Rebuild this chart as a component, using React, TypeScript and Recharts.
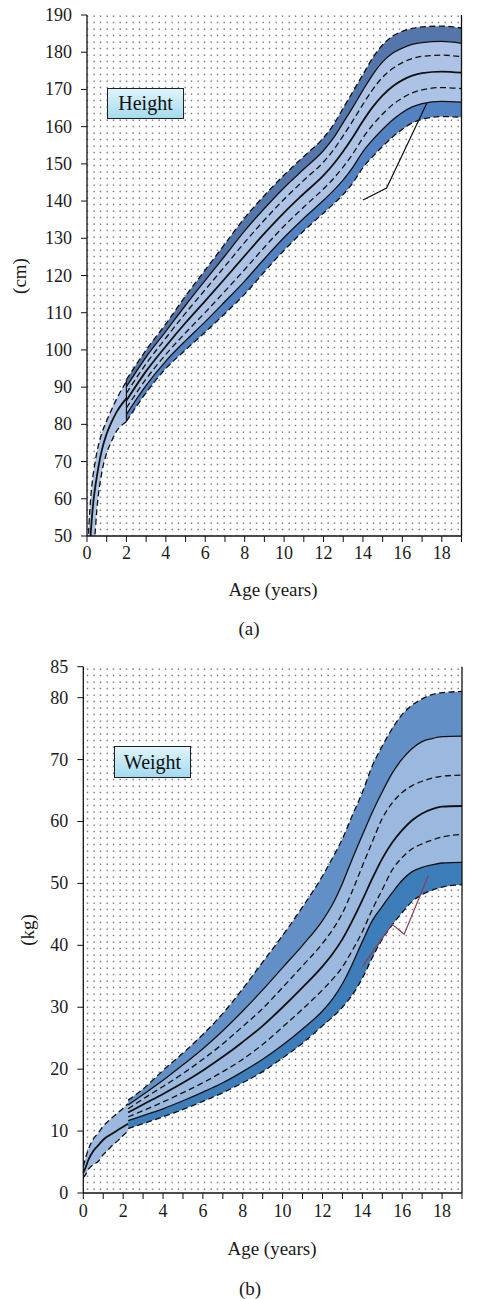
import React from 'react';
import { ComposedChart, Area, Line, XAxis, YAxis, CartesianGrid } from 'recharts';

const SERIF = '"Liberation Serif", "Times New Roman", serif';

// ---------- Height chart data ----------
const hInfAges = [0.05, 0.1, 0.2, 0.3, 0.4, 0.5, 0.75, 1, 1.25, 1.5, 1.75, 2];
const hInfP3 = [25, 30, 38, 44, 50, 57, 67, 72.3, 75.5, 78.2, 79.7, 80.7];
const hInfP50 = [36, 42, 51.5, 58, 62.5, 66, 73, 77.5, 80.7, 83.3, 85.3, 87];
const hInfP97 = [48, 53, 61, 66, 69.5, 72.5, 77.6, 81, 84, 86.8, 89.3, 91.5];

const hAges = [2, 3, 4, 5, 6, 7, 8, 9, 10, 11, 12, 12.5, 13, 13.5, 14, 14.5, 15, 15.5, 16, 16.5, 17, 18, 19];
const hP3 = [80.8, 88.5, 95.0, 100.0, 104.8, 109.8, 115.0, 121.0, 126.8, 132.0, 136.8, 139.2, 141.8, 145.0, 149.0, 152.0, 154.7, 157.2, 159.3, 161.0, 162.0, 162.7, 162.5];
const hP10 = [82.7, 90.5, 97.0, 102.5, 107.6, 113.0, 118.5, 124.5, 130.2, 135.4, 140.2, 142.8, 145.7, 149.2, 153.3, 156.5, 159.3, 161.8, 163.8, 165.3, 166.2, 166.8, 166.6];
const hP25 = [84.4, 92.2, 98.8, 104.6, 110.1, 115.8, 121.6, 127.6, 133.3, 138.4, 143.3, 146.0, 149.2, 152.8, 157.0, 160.5, 163.4, 165.9, 167.7, 169.1, 169.9, 170.5, 170.2];
const hP50 = [86.4, 94.3, 101.0, 107.3, 113.2, 119.2, 125.3, 131.3, 136.9, 142.0, 146.9, 149.9, 153.4, 157.3, 161.5, 165.3, 168.4, 170.8, 172.5, 173.7, 174.4, 174.8, 174.5];
const hP75 = [88.4, 96.3, 103.2, 109.9, 116.2, 122.5, 128.9, 134.9, 140.5, 145.6, 150.5, 153.7, 157.6, 161.7, 166.0, 170.0, 173.3, 175.6, 177.2, 178.3, 178.9, 179.2, 178.8];
const hP90 = [90.1, 98.1, 105.0, 112.0, 118.7, 125.3, 132.0, 138.0, 143.6, 148.6, 153.6, 156.9, 161.1, 165.3, 169.8, 174.0, 177.4, 179.7, 181.1, 182.1, 182.6, 182.9, 182.4];
const hP97 = [92.0, 100.0, 107.0, 114.5, 121.5, 128.5, 135.5, 141.5, 147.0, 152.0, 157.0, 160.5, 165.0, 169.5, 174.0, 178.5, 182.0, 184.3, 185.6, 186.4, 186.8, 187.0, 186.5];

const patientHAges = [14.0, 15.2, 17.24];
const patientHeights = [140.3, 143.5, 166.3];

const hYTicks = [50, 60, 70, 80, 90, 100, 110, 120, 130, 140, 150, 160, 170, 180, 190];
const hRightTicks = [187.0, 182.8, 178.6, 174.6, 170.3, 166.0, 161.4];

// ---------- Weight chart data ----------
const wInfAges = [0, 0.1, 0.25, 0.5, 0.75, 1, 1.25, 1.5, 1.75, 2, 2.25];
const wInfP3 = [2.5, 2.9, 3.8, 4.6, 5.1, 6.2, 7.0, 7.8, 8.5, 9.3, 10.0];
const wInfP50 = [3.3, 4.0, 5.3, 6.8, 7.7, 8.6, 9.2, 9.7, 10.2, 10.7, 11.2];
const wInfP97 = [4.3, 5.5, 7.0, 8.7, 9.7, 10.8, 11.6, 12.3, 13.0, 13.7, 14.4];

const wAges = [2.25, 3, 4, 5, 6, 7, 8, 9, 10, 11, 12, 12.5, 13, 13.5, 14, 14.5, 15, 15.5, 16, 16.5, 17, 17.5, 18, 19];
const wP3 = [10.4, 11.2, 12.3, 13.5, 14.8, 16.2, 17.8, 19.6, 21.8, 24.2, 27.0, 28.4, 30.0, 32.0, 34.7, 38.0, 41.0, 43.3, 45.3, 47.1, 48.2, 48.9, 49.4, 49.8];
const wP10 = [11.7, 12.5, 13.6, 14.9, 16.3, 17.8, 19.6, 21.6, 23.9, 26.5, 29.4, 31.3, 33.8, 37.0, 40.6, 44.0, 46.3, 48.5, 50.5, 51.9, 52.6, 53.0, 53.3, 53.4];
const wP25 = [12.3, 13.3, 14.7, 16.2, 17.8, 19.6, 21.6, 24.0, 26.8, 29.7, 32.8, 34.5, 36.5, 39.2, 42.2, 45.8, 49.0, 52.2, 54.2, 55.6, 56.4, 57.0, 57.5, 57.9];
const wP50 = [13.0, 14.3, 16.0, 17.8, 19.8, 22.0, 24.4, 27.0, 30.0, 33.2, 36.6, 38.6, 41.0, 44.0, 47.3, 50.8, 54.0, 56.6, 58.6, 60.2, 61.3, 62.0, 62.4, 62.5];
const wP75 = [13.6, 15.2, 17.2, 19.3, 21.6, 24.1, 26.9, 29.8, 33.2, 36.7, 40.3, 42.5, 45.2, 48.8, 52.8, 56.7, 60.5, 63.0, 64.7, 65.8, 66.5, 67.0, 67.3, 67.5];
const wP90 = [14.2, 15.9, 18.2, 20.7, 23.3, 26.2, 29.4, 32.8, 36.4, 40.0, 44.0, 46.6, 50.0, 54.0, 57.8, 61.5, 64.8, 67.8, 70.1, 71.8, 72.9, 73.4, 73.7, 73.8];
const wP97 = [15.0, 16.8, 19.8, 22.6, 25.6, 29.0, 33.0, 37.3, 41.6, 46.2, 51.2, 54.1, 57.2, 61.0, 64.7, 69.0, 72.2, 75.0, 77.3, 78.8, 79.8, 80.5, 80.8, 81.0];

const patientWAges = [14.0, 15.5, 16.1, 17.3];
const patientWeights = [36.6, 43.4, 41.8, 51.2];

const wYTicks = [0, 10, 20, 30, 40, 50, 60, 70, 80, 85];
const wRightTicks = [80.9, 74.5, 68.0, 62.6, 58.0, 53.4, 49.85];

// ---------- shared ----------
const pctLabels = ['97', '90', '75', '50', '25', '10', '3'];
const ageTicks = [0, 1, 2, 3, 4, 5, 6, 7, 8, 9, 10, 11, 12, 13, 14, 15, 16, 17, 18, 19];
const ageTickLabels = ['0', '', '2', '', '4', '', '6', '', '8', '', '10', '', '12', '', '14', '', '16', '', '18', ''];

const buildRows = (ages: number[], cols: Record<string, number[]>) =>
  ages.map((age, i) => {
    const r: any = { age };
    Object.keys(cols).forEach((k) => (r[k] = cols[k][i]));
    return r;
  });

const hInfRows = buildRows(hInfAges, { p3: hInfP3, p50: hInfP50, p97: hInfP97 });
const hRows = buildRows(hAges, { p3: hP3, p10: hP10, p25: hP25, p50: hP50, p75: hP75, p90: hP90, p97: hP97 });
const hPatientRows = buildRows(patientHAges, { v: patientHeights });
const hVertRows = [
  { age: hAges[0], v: hP3[0] },
  { age: hAges[0], v: hP97[0] },
];

const wInfRows = buildRows(wInfAges, { p3: wInfP3, p50: wInfP50, p97: wInfP97 });
const wRows = buildRows(wAges, { p3: wP3, p10: wP10, p25: wP25, p50: wP50, p75: wP75, p90: wP90, p97: wP97 });
const wPatientRows = buildRows(patientWAges, { v: patientWeights });

const DASH = '6 3.5';

const PctTick = (props: any) => {
  const { x, y, payload, ticks } = props;
  const idx = ticks.indexOf(payload.value);
  return (
    <text x={x} y={y} dy={5} fontSize={15} fontFamily={SERIF} style={{ fontFamily: SERIF }} fill="#1a1a1a" textAnchor="start">
      {pctLabels[idx]}
      <tspan fontSize={8} dy={-7}>°</tspan>
    </text>
  );
};

const LeftTick = (props: any) => {
  const { x, y, payload } = props;
  return (
    <text x={x} y={y} dy={6} fontSize={18} fontFamily={SERIF} style={{ fontFamily: SERIF }} fill="#1a1a1a" textAnchor="end">
      {payload.value}
    </text>
  );
};

const BottomTick = (props: any) => {
  const { x, y, payload } = props;
  const label = ageTickLabels[ageTicks.indexOf(payload.value)];
  return (
    <text x={x} y={y} dy={13} fontSize={18} fontFamily={SERIF} style={{ fontFamily: SERIF }} fill="#1a1a1a" textAnchor="middle">
      {label}
    </text>
  );
};

const axisLineStyle = { stroke: '#111', strokeWidth: 1.3 };

function bandSeries(rows: any[], colors: { top: string; mid: string; bot: string }) {
  return [
    <Area key="b1" data={rows} dataKey={(d: any) => [d.p90, d.p97]} type="monotone" stroke="none" fill={colors.top} fillOpacity={1} isAnimationActive={false} dot={false} activeDot={false} />,
    <Area key="b2" data={rows} dataKey={(d: any) => [d.p10, d.p90]} type="monotone" stroke="none" fill={colors.mid} fillOpacity={1} isAnimationActive={false} dot={false} activeDot={false} />,
    <Area key="b3" data={rows} dataKey={(d: any) => [d.p3, d.p10]} type="monotone" stroke="none" fill={colors.bot} fillOpacity={1} isAnimationActive={false} dot={false} activeDot={false} />,
    <Line key="l97" data={rows} dataKey="p97" type="monotone" stroke="#111" strokeWidth={1.3} strokeDasharray={DASH} dot={false} activeDot={false} isAnimationActive={false} />,
    <Line key="l90" data={rows} dataKey="p90" type="monotone" stroke="#111" strokeWidth={1.3} dot={false} activeDot={false} isAnimationActive={false} />,
    <Line key="l75" data={rows} dataKey="p75" type="monotone" stroke="#111" strokeWidth={1.3} strokeDasharray={DASH} dot={false} activeDot={false} isAnimationActive={false} />,
    <Line key="l50" data={rows} dataKey="p50" type="monotone" stroke="#111" strokeWidth={1.8} dot={false} activeDot={false} isAnimationActive={false} />,
    <Line key="l25" data={rows} dataKey="p25" type="monotone" stroke="#111" strokeWidth={1.3} strokeDasharray={DASH} dot={false} activeDot={false} isAnimationActive={false} />,
    <Line key="l10" data={rows} dataKey="p10" type="monotone" stroke="#111" strokeWidth={1.3} dot={false} activeDot={false} isAnimationActive={false} />,
    <Line key="l3" data={rows} dataKey="p3" type="monotone" stroke="#111" strokeWidth={1.3} strokeDasharray={DASH} dot={false} activeDot={false} isAnimationActive={false} />,
  ];
}

function infantSeries(rows: any[], fill: string) {
  return [
    <Area key="i1" data={rows} dataKey={(d: any) => [d.p3, d.p97]} type="monotone" stroke="none" fill={fill} fillOpacity={1} isAnimationActive={false} dot={false} activeDot={false} />,
    <Line key="i97" data={rows} dataKey="p97" type="monotone" stroke="#111" strokeWidth={1.3} strokeDasharray={DASH} dot={false} activeDot={false} isAnimationActive={false} />,
    <Line key="i50" data={rows} dataKey="p50" type="monotone" stroke="#111" strokeWidth={1.8} dot={false} activeDot={false} isAnimationActive={false} />,
    <Line key="i3" data={rows} dataKey="p3" type="monotone" stroke="#111" strokeWidth={1.3} strokeDasharray={DASH} dot={false} activeDot={false} isAnimationActive={false} />,
  ];
}

const textStyle = (x: number, y: number, size: number, rotate = false): React.CSSProperties => ({
  position: 'absolute',
  left: x,
  top: y,
  transform: `translate(-50%, -50%)${rotate ? ' rotate(-90deg)' : ''}`,
  fontFamily: SERIF,
  fontSize: size,
  color: '#1a1a1a',
  whiteSpace: 'nowrap',
  lineHeight: 1,
});

const boxStyle = (x: number, y: number, w: number, h: number): React.CSSProperties => ({
  position: 'absolute',
  left: x,
  top: y,
  width: w,
  height: h,
  boxSizing: 'border-box',
  border: '1.5px solid #222',
  background: 'linear-gradient(to bottom, #e0f4fa, #a4dbef)',
  fontFamily: SERIF,
  fontSize: 20,
  color: '#111',
  display: 'flex',
  alignItems: 'center',
  justifyContent: 'center',
});

export default function App() {
  return (
    <div style={{ position: 'absolute', left: 0, top: 0, width: 499, height: 1299, background: '#fff', fontFamily: SERIF }}>
      <svg width={0} height={0} style={{ position: 'absolute' }}>
        <defs>
          <pattern id="dots" width={6.5} height={6.5} patternUnits="userSpaceOnUse">
            <rect x={2.5} y={2.5} width={1.2} height={1.2} fill="#333" />
          </pattern>
        </defs>
      </svg>

      {/* Height chart */}
      <div style={{ position: 'absolute', left: 0, top: 0 }}>
        <ComposedChart width={499} height={600} margin={{ top: 15, right: 0, bottom: 0, left: 0 }} style={{ fontFamily: SERIF }}>
          <CartesianGrid fill="url(#dots)" horizontal={false} vertical={false} />
          <XAxis dataKey="age" type="number" domain={[0, 19]} ticks={ageTicks} interval={0}
            height={64} tickSize={6} tickMargin={4} tick={<BottomTick />} axisLine={axisLineStyle} tickLine={{ stroke: '#111' }} />
          <XAxis xAxisId="top" orientation="top" dataKey="age" type="number" domain={[0, 19]} height={0} tick={false} tickLine={false} axisLine={axisLineStyle} />
          <YAxis type="number" domain={[50, 190]} ticks={hYTicks} interval={0} allowDataOverflow width={87}
            tickSize={6} tickMargin={9} tick={<LeftTick />} axisLine={axisLineStyle} tickLine={{ stroke: '#111' }} />
          <YAxis yAxisId="r" orientation="right" type="number" domain={[50, 190]} ticks={hRightTicks} interval={0} width={37.5}
            tickSize={5} tickMargin={10} axisLine={axisLineStyle} tickLine={{ stroke: '#111' }}
            tick={(p: any) => <PctTick {...p} ticks={hRightTicks} />} />
          {infantSeries(hInfRows, '#adc3e5')}
          {bandSeries(hRows, { top: '#5576ab', mid: '#adc3e5', bot: '#5282c2' })}
          <Line data={hVertRows} dataKey="v" type="linear" stroke="#111" strokeWidth={1.2} dot={false} activeDot={false} isAnimationActive={false} />
          <Line data={hPatientRows} dataKey="v" type="linear" stroke="#111" strokeWidth={1.2} dot={false} activeDot={false} isAnimationActive={false} />
        </ComposedChart>
      </div>
      <div style={textStyle(19, 276, 19, true)}>(cm)</div>
      <div style={textStyle(273, 589, 19)}>Age (years)</div>
      <div style={textStyle(249, 628, 19)}>(a)</div>
      <div style={boxStyle(107, 88, 77, 31)}>Height</div>

      {/* Weight chart */}
      <div style={{ position: 'absolute', left: 0, top: 640 }}>
        <ComposedChart width={499} height={620} margin={{ top: 26.7, right: 0, bottom: 0, left: 0 }} style={{ fontFamily: SERIF }}>
          <CartesianGrid fill="url(#dots)" horizontal={false} vertical={false} />
          <XAxis dataKey="age" type="number" domain={[0, 19]} ticks={ageTicks} interval={0}
            height={67} tickSize={6} tickMargin={5} tick={<BottomTick />} axisLine={axisLineStyle} tickLine={{ stroke: '#111' }} />
          <XAxis xAxisId="top" orientation="top" dataKey="age" type="number" domain={[0, 19]} height={0} tick={false} tickLine={false} axisLine={axisLineStyle} />
          <YAxis type="number" domain={[0, 85]} ticks={wYTicks} interval={0} allowDataOverflow width={83.3}
            tickSize={6} tickMargin={9} tick={<LeftTick />} axisLine={axisLineStyle} tickLine={{ stroke: '#111' }} />
          <YAxis yAxisId="r" orientation="right" type="number" domain={[0, 85]} ticks={wRightTicks} interval={0} width={37}
            tickSize={5} tickMargin={10} axisLine={axisLineStyle} tickLine={{ stroke: '#111' }}
            tick={(p: any) => <PctTick {...p} ticks={wRightTicks} />} />
          {infantSeries(wInfRows, '#9bb9de')}
          {bandSeries(wRows, { top: '#6290c6', mid: '#9bb9de', bot: '#3d7dba' })}
          <Line data={wPatientRows} dataKey="v" type="linear" stroke="#8c3d5a" strokeWidth={1.2} dot={false} activeDot={false} isAnimationActive={false} />
        </ComposedChart>
      </div>
      <div style={textStyle(27, 930, 19, true)}>(kg)</div>
      <div style={textStyle(272, 1248, 19)}>Age (years)</div>
      <div style={textStyle(250, 1288, 19)}>(b)</div>
      <div style={boxStyle(114, 746, 77, 32)}>Weight</div>
    </div>
  );
}
